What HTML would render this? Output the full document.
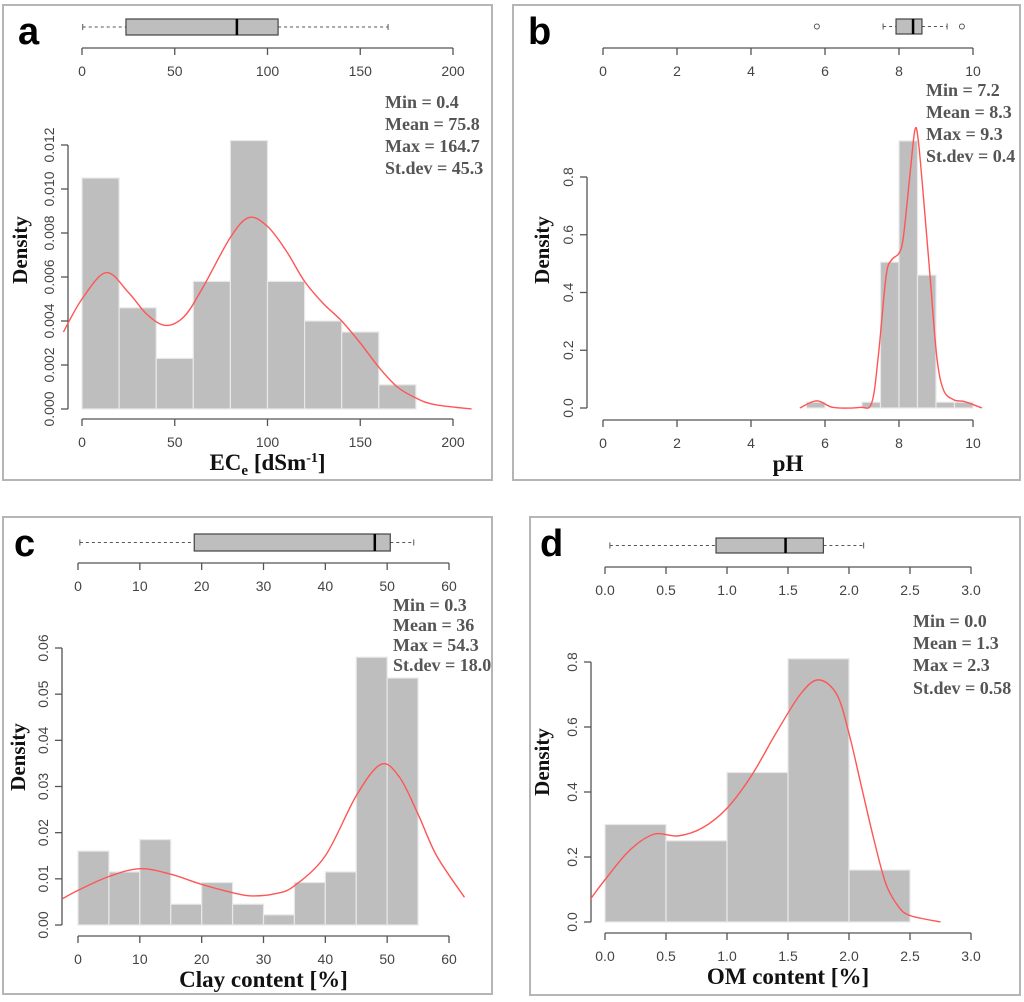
<!DOCTYPE html>
<html><head><meta charset="utf-8"><style>
body{margin:0;background:#fff}
svg{display:block}
.tk{font-family:"Liberation Sans",sans-serif;font-size:14px;fill:#444}
.st{font-family:"Liberation Serif",serif;font-weight:bold;font-size:18px;fill:#555}
.xl{font-family:"Liberation Serif",serif;font-weight:bold;font-size:23px;fill:#111}
.yl{font-family:"Liberation Serif",serif;font-weight:bold;font-size:21px;fill:#111}
.pl{font-family:"Liberation Sans",sans-serif;font-weight:bold;font-size:38px;fill:#000}
</style></head><body>
<svg id="chart" width="1024" height="1002" xmlns="http://www.w3.org/2000/svg"></svg>
<script>
// ---- data ----
const aBinEdges=[0,20,40,60,80,100,120,140,160,180];
const aDensity=[0.0105,0.0046,0.0023,0.0058,0.0122,0.0058,0.0040,0.0035,0.0011];
const aCurveX=[-10,0,13,25,35,45,55,65,80,90,100,110,120,130,140,150,160,170,180,190,210];
const aCurveY=[0.0035,0.0050,0.0062,0.0053,0.0043,0.0038,0.0042,0.0055,0.0078,0.0087,0.0083,0.0072,0.0058,0.0048,0.0040,0.0030,0.0019,0.0010,0.0005,0.0002,0.0];
const aBox=[0.4,23.7,83.5,105.7,165];
const aOutliers=[];
const aXTicks=[0,50,100,150,200];
const aYTicks=[0,0.002,0.004,0.006,0.008,0.010,0.012];
const aYTickLabels=["0.000","0.002","0.004","0.006","0.008","0.010","0.012"];
const aStats=["Min = 0.4","Mean = 75.8","Max = 164.7","St.dev = 45.3"];

const bBinEdges=[5.5,6,6.5,7,7.5,8,8.5,9,9.5,10];
const bDensity=[0.02,0,0,0.02,0.505,0.925,0.46,0.02,0.02];
const bCurveX=[5.32,5.78,6.22,6.94,7.26,7.44,7.65,7.80,8.0,8.12,8.30,8.43,8.52,8.66,8.84,9.02,9.20,9.47,9.74,10.0,10.24];
const bCurveY=[0.0,0.025,0.002,0.002,0.017,0.179,0.455,0.513,0.536,0.594,0.813,0.963,0.928,0.732,0.455,0.179,0.063,0.029,0.023,0.012,0.0];
const bBox=[7.57,7.92,8.38,8.62,9.30];
const bOutliers=[5.78,9.70];
const bXTicks=[0,2,4,6,8,10];
const bYTicks=[0,0.2,0.4,0.6,0.8];
const bYTickLabels=["0.0","0.2","0.4","0.6","0.8"];
const bStats=["Min = 7.2","Mean = 8.3","Max = 9.3","St.dev = 0.4"];

const cBinEdges=[0,5,10,15,20,25,30,35,40,45,50,55];
const cDensity=[0.016,0.0115,0.0185,0.0045,0.0092,0.0045,0.0022,0.0092,0.0115,0.058,0.0535];
const cCurveX=[-2.5,0,5,10,15,20,25,28,32,35,40,45,49,52,55,58,62.5];
const cCurveY=[0.0057,0.0075,0.0105,0.0122,0.011,0.0088,0.0070,0.0063,0.0068,0.0085,0.015,0.028,0.0348,0.032,0.024,0.015,0.006];
const cBox=[0.3,18.8,48,50.5,54.3];
const cOutliers=[];
const cXTicks=[0,10,20,30,40,50,60];
const cYTicks=[0,0.01,0.02,0.03,0.04,0.05,0.06];
const cYTickLabels=["0.00","0.01","0.02","0.03","0.04","0.05","0.06"];
const cStats=["Min = 0.3","Mean = 36","Max = 54.3","St.dev = 18.0"];

const dBinEdges=[0,0.5,1,1.5,2,2.5];
const dDensity=[0.30,0.25,0.46,0.81,0.16];
const dCurveX=[-0.12,0,0.2,0.4,0.6,0.8,1.0,1.2,1.4,1.6,1.75,1.9,2.0,2.1,2.2,2.3,2.4,2.5,2.75];
const dCurveY=[0.07,0.13,0.22,0.27,0.265,0.29,0.35,0.45,0.58,0.70,0.745,0.70,0.58,0.42,0.26,0.12,0.05,0.02,0.0];
const dBox=[0.04,0.91,1.48,1.79,2.12];
const dOutliers=[];
const dXTicks=[0,0.5,1,1.5,2,2.5,3];
const dXTickLabels=["0.0","0.5","1.0","1.5","2.0","2.5","3.0"];
const dYTicks=[0,0.2,0.4,0.6,0.8];
const dYTickLabels=["0.0","0.2","0.4","0.6","0.8"];
const dStats=["Min = 0.0","Mean = 1.3","Max = 2.3","St.dev = 0.58"];

// ---- layout ----
const panels=[
 {id:'a',border:[3,5,489,475],x0:82,x1:453,v0:0,v1:200,topAxisY:48,boxY:[19,35],yAxisX:68,yPix0:409,yPix1:145,yv1:0.012,botAxisY:419,
  statX:385,statY:[108,130,152,174],letter:[18,44],ylabelPos:[27,250],xlabel:'ec',
  edges:aBinEdges,dens:aDensity,cx:aCurveX,cy:aCurveY,box:aBox,out:aOutliers,xt:aXTicks,xtl:null,yt:aYTicks,ytl:aYTickLabels,stats:aStats},
 {id:'b',border:[513,5,507,475],x0:603,x1:973,v0:0,v1:10,topAxisY:48,boxY:[19,34],yAxisX:587,yPix0:408,yPix1:177,yv1:0.8,botAxisY:420,
  statX:926,statY:[96,118,140,162],letter:[528,44],ylabelPos:[549,250],xlabel:'pH',
  edges:bBinEdges,dens:bDensity,cx:bCurveX,cy:bCurveY,box:bBox,out:bOutliers,xt:bXTicks,xtl:null,yt:bYTicks,ytl:bYTickLabels,stats:bStats},
 {id:'c',border:[3,517,489,477],x0:78,x1:449,v0:0,v1:60,topAxisY:563,boxY:[534,551],yAxisX:62,yPix0:925,yPix1:648,yv1:0.06,botAxisY:936,
  statX:393,statY:[611,631,651,671],letter:[14,556],ylabelPos:[25,757],xlabel:'Clay content [%]',
  edges:cBinEdges,dens:cDensity,cx:cCurveX,cy:cCurveY,box:cBox,out:cOutliers,xt:cXTicks,xtl:null,yt:cYTicks,ytl:cYTickLabels,stats:cStats},
 {id:'d',border:[530,517,490,478],x0:605,x1:971,v0:0,v1:3,topAxisY:567,boxY:[538,553],yAxisX:591,yPix0:922,yPix1:662,yv1:0.8,botAxisY:933,
  statX:913,statY:[627,649,671,694],letter:[540,556],ylabelPos:[549,762],xlabel:'OM content [%]',
  edges:dBinEdges,dens:dDensity,cx:dCurveX,cy:dCurveY,box:dBox,out:dOutliers,xt:dXTicks,xtl:dXTickLabels,yt:dYTicks,ytl:dYTickLabels,stats:dStats}
];

const NS='http://www.w3.org/2000/svg';
const svg=document.getElementById('chart');
function mk(tag,attrs,parent){const e=document.createElementNS(NS,tag);for(const k in attrs)e.setAttribute(k,attrs[k]);(parent||svg).appendChild(e);return e;}

panels.forEach(p=>{
 const g=mk('g',{});
 
 
 const sx=v=>p.x0+(v-p.v0)*(p.x1-p.x0)/(p.v1-p.v0);
 const sy=v=>p.yPix0-(v)*(p.yPix0-p.yPix1)/p.yv1;
 const br=mk('rect',{x:p.border[0],y:p.border[1],width:p.border[2],height:p.border[3],fill:'none',stroke:'#b5b5b5','stroke-width':2},g);
 
 
 const lt=mk('text',{x:p.letter[0],y:p.letter[1],class:'pl'},g);lt.textContent=p.id;
 
 
 // boxplot
 const bg=mk('g',{},g);
 
 
 const my=(p.boxY[0]+p.boxY[1])/2, b=p.box;
 mk('line',{x1:sx(b[0]),x2:sx(b[1]),y1:my,y2:my,stroke:'#555','stroke-dasharray':'3,3'},bg);
 mk('line',{x1:sx(b[3]),x2:sx(b[4]),y1:my,y2:my,stroke:'#555','stroke-dasharray':'3,3'},bg);
 mk('line',{x1:sx(b[0]),x2:sx(b[0]),y1:my-3,y2:my+3,stroke:'#555'},bg);
 mk('line',{x1:sx(b[4]),x2:sx(b[4]),y1:my-3,y2:my+3,stroke:'#555'},bg);
 mk('rect',{x:sx(b[1]),y:p.boxY[0],width:sx(b[3])-sx(b[1]),height:p.boxY[1]-p.boxY[0],fill:'#bebebe',stroke:'#444','stroke-width':1.2},bg);
 mk('line',{x1:sx(b[2]),x2:sx(b[2]),y1:p.boxY[0],y2:p.boxY[1],stroke:'#000','stroke-width':2.5},bg);
 p.out.forEach(o=>{const c=mk('circle',{cx:sx(o),cy:my,r:2.5,fill:'none',stroke:'#555'},bg);
  
  });
 // x axes (top & bottom)
 [[p.topAxisY,'top-x-axis'],[p.botAxisY,'bottom-x-axis']].forEach(([ay,nm])=>{
  const ag=mk('g',{},g);
  
  
  mk('line',{x1:sx(p.xt[0]),x2:sx(p.xt[p.xt.length-1]),y1:ay,y2:ay,stroke:'#555','stroke-width':1.3},ag);
  p.xt.forEach((t,i)=>{mk('line',{x1:sx(t),x2:sx(t),y1:ay,y2:ay+7,stroke:'#555','stroke-width':1.3},ag);
   const tx=mk('text',{x:sx(t),y:ay+28,'text-anchor':'middle',class:'tk'},ag);tx.textContent=p.xtl?p.xtl[i]:String(t);
   
   });
 });
 // y axis
 const yg=mk('g',{},g);
 
 
 mk('line',{x1:p.yAxisX,x2:p.yAxisX,y1:sy(p.yt[0]),y2:sy(p.yt[p.yt.length-1]),stroke:'#555','stroke-width':1.3},yg);
 p.yt.forEach((t,i)=>{const y=sy(t);mk('line',{x1:p.yAxisX-7,x2:p.yAxisX,y1:y,y2:y,stroke:'#555','stroke-width':1.3},yg);
  const tx=mk('text',{x:0,y:0,'text-anchor':'middle',class:'tk',transform:`translate(${p.yAxisX-14},${y}) rotate(-90)`},yg);tx.textContent=p.ytl[i];
  
  });
 const yl=mk('text',{x:0,y:0,'text-anchor':'middle',class:'yl',transform:`translate(${p.ylabelPos[0]},${p.ylabelPos[1]}) rotate(-90)`},g);yl.textContent='Density';
 
 
 // bars
 p.dens.forEach((d,i)=>{if(d<=0)return;
  const r=mk('rect',{x:sx(p.edges[i]),y:sy(d),width:sx(p.edges[i+1])-sx(p.edges[i]),height:sy(0)-sy(d),fill:'#bebebe',stroke:'#e8e8e8','stroke-width':1.2},g);
  
  });
 // curve
 const pts=p.cx.map((x,i)=>[sx(x),sy(p.cy[i])]);
 let dStr='M'+pts[0][0]+','+pts[0][1];
 for(let i=0;i<pts.length-1;i++){const p0=pts[Math.max(0,i-1)],p1=pts[i],p2=pts[i+1],p3=pts[Math.min(pts.length-1,i+2)];
  const c1=[p1[0]+(p2[0]-p0[0])/6,p1[1]+(p2[1]-p0[1])/6],c2=[p2[0]-(p3[0]-p1[0])/6,p2[1]-(p3[1]-p1[1])/6];
  dStr+=` C${c1[0]},${c1[1]} ${c2[0]},${c2[1]} ${p2[0]},${p2[1]}`;}
 const cv=mk('path',{d:dStr,fill:'none',stroke:'#ff5555','stroke-width':1.4},g);
 
 
 // stats
 p.stats.forEach((s,i)=>{const t=mk('text',{x:p.statX,y:p.statY[i],class:'st'},g);t.textContent=s;
  
  });
 // x label
 const xlx=(p.x0+p.x1)/2, xly=p.botAxisY+51;
 const xl=mk('text',{x:xlx,y:xly,'text-anchor':'middle',class:'xl'},g);
 
 
 if(p.xlabel==='ec'){xl.innerHTML='EC<tspan font-size="15" dy="5">e</tspan><tspan dy="-5"> [dSm</tspan><tspan font-size="14" dy="-8">-1</tspan><tspan dy="8">]</tspan>';}
 else xl.textContent=p.xlabel;
});
</script>
</body></html>
